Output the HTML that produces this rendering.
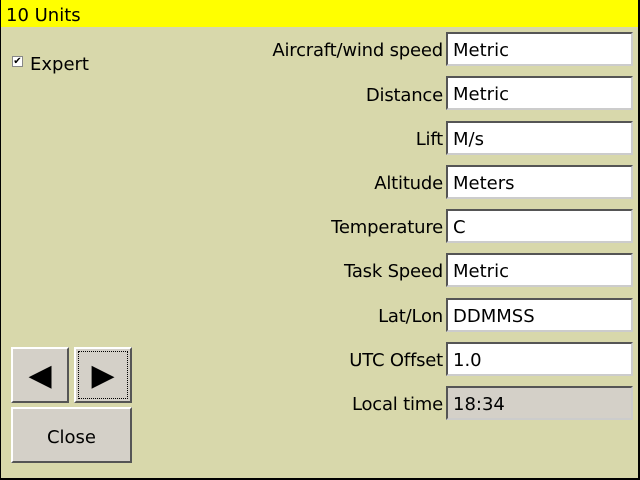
<!DOCTYPE html>
<html><head><meta charset="utf-8"><style>
body{margin:0;width:640px;height:480px;overflow:hidden;background:#000;font-family:"DejaVu Sans","Liberation Sans",sans-serif;}
#win{position:absolute;left:1px;top:0;width:637px;height:478px;background:#d8d8ab;}
#title{position:absolute;left:0;top:0;width:637px;height:27px;background:#ffff00;font-size:18px;line-height:32px;padding-left:5px;box-sizing:border-box;color:#000;}
.lbl{position:absolute;right:195px;font-size:18px;color:#000;text-align:right;white-space:nowrap;letter-spacing:-0.2px;}
.fld{position:absolute;left:445px;width:187px;height:34px;background:#fff;box-sizing:border-box;border-top:2px solid #555;border-left:2px solid #555;border-right:2px solid #ccc;border-bottom:2px solid #ccc;font-size:18px;line-height:33px;padding-left:5px;}
.btn{position:absolute;background:#d4d0c8;box-sizing:border-box;border-top:2px solid #fff;border-left:2px solid #fff;border-right:2px solid #555;border-bottom:2px solid #555;display:flex;align-items:center;justify-content:center;font-size:18px;}
</style></head><body>
<div id="win">
<div id="title">10 Units</div>
<div style="position:absolute;left:11px;top:56px;width:11px;height:11px;background:#fff;border:1px solid #888;box-sizing:border-box;font-size:10px;line-height:9px;text-align:center;">✔</div>
<div style="position:absolute;left:29px;top:54px;font-size:18px;">Expert</div>

<div class="lbl" style="top:40px">Aircraft/wind speed</div>
<div class="fld" style="top:32px">Metric</div>
<div class="lbl" style="top:85px">Distance</div>
<div class="fld" style="top:76px">Metric</div>
<div class="lbl" style="top:129px">Lift</div>
<div class="fld" style="top:121px">M/s</div>
<div class="lbl" style="top:173px">Altitude</div>
<div class="fld" style="top:165px">Meters</div>
<div class="lbl" style="top:217px">Temperature</div>
<div class="fld" style="top:209px">C</div>
<div class="lbl" style="top:261px">Task Speed</div>
<div class="fld" style="top:253px">Metric</div>
<div class="lbl" style="top:306px">Lat/Lon</div>
<div class="fld" style="top:298px">DDMMSS</div>
<div class="lbl" style="top:350px">UTC Offset</div>
<div class="fld" style="top:342px">1.0</div>
<div class="lbl" style="top:394px">Local time</div>
<div class="fld" style="top:386px;background:#d4d0c8">18:34</div>

<div class="btn" style="left:10px;top:347px;width:58px;height:56px;font-size:30px">◀</div>
<div class="btn" style="left:73px;top:347px;width:58px;height:56px;font-size:30px"><div style="position:absolute;left:2px;top:2px;right:2px;bottom:2px;border:1px dotted #000"></div>▶</div>
<div class="btn" style="left:10px;top:407px;width:121px;height:56px;padding-top:4px">Close</div>
</div>
</body></html>
